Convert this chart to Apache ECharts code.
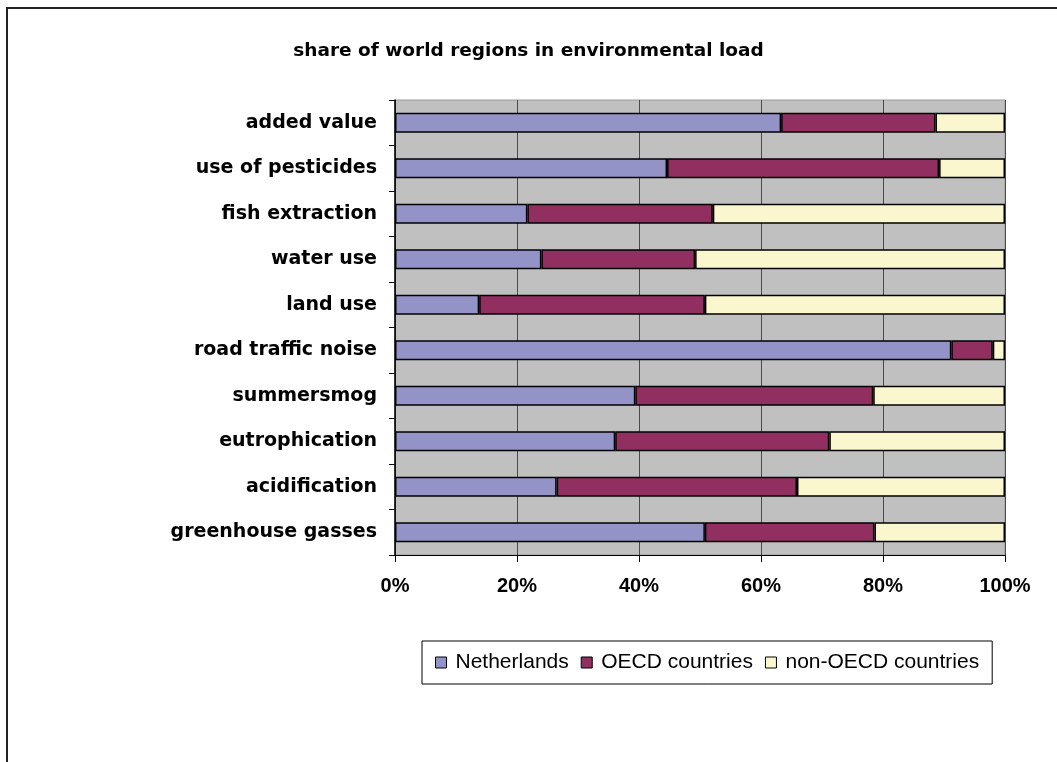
<!DOCTYPE html>
<html>
<head>
<meta charset="utf-8">
<script src="https://cdn.jsdelivr.net/npm/echarts@6/dist/echarts.min.js"></script>
<style>
html,body{margin:0;padding:0;background:#fff;}
#chart{width:1057px;height:762px;}
</style>
</head>
<body>
<div id="chart"></div>
<script>
const categories = ["added value","use of pesticides","fish extraction","water use","land use","road traffic noise","summersmog","eutrophication","acidification","greenhouse gasses"];
const netherlands = [63.3, 44.6, 21.7, 24.0, 13.8, 91.2, 39.4, 36.1, 26.5, 50.8];
const oecd = [25.3, 44.6, 30.4, 25.2, 37.0, 6.8, 39.0, 35.1, 39.4, 27.8];
const nonOecd = [11.4, 10.8, 47.9, 50.8, 49.2, 2.0, 21.6, 28.8, 34.1, 21.4];
const seriesNames = ["Netherlands","OECD countries","non-OECD countries"];
const xTicks = [0, 20, 40, 60, 80, 100];

const colors = ["#9393C8", "#913060", "#FAF7CF"];
const chart = echarts.init(document.getElementById('chart'));
function mk(name, data, color) {
  return {
    name: name, type: 'bar', stack: 'total', data: data, barWidth: 20,
    itemStyle: { color: color, borderColor: '#000', borderWidth: 1.5 },
    emphasis: { disabled: true }
  };
}
chart.setOption({
  animation: false,
  backgroundColor: '#fff',
  title: {
    text: 'share of world regions in environmental load',
    left: 'center', top: 37,
    textStyle: { fontFamily: 'DejaVu Sans', fontWeight: 'bold', fontSize: 18.5, color: '#000' }
  },
  graphic: [{
    type: 'rect', shape: { x: 7, y: 8, width: 1100, height: 800 },
    style: { fill: 'none', stroke: '#222', lineWidth: 2 }, silent: true, z: -1
  }],
  grid: {
    left: 395, right: 52, top: 100, bottom: 207,
    show: true, backgroundColor: '#C0C0C0', borderColor: '#9a9a9a', borderWidth: 1
  },
  legend: {
    data: seriesNames,
    left: 422, top: 641,
    width: 600,
    padding: [11, 13, 11, 13],
    borderColor: '#000', borderWidth: 1,
    itemWidth: 11, itemHeight: 11, itemGap: 12,
    icon: 'rect',
    itemStyle: { borderColor: '#000', borderWidth: 1 },
    textStyle: { fontFamily: 'Liberation Sans', fontSize: 21, color: '#000', padding: [0, 0, 0, 4] }
  },
  xAxis: {
    type: 'value', min: xTicks[0], max: xTicks[xTicks.length - 1], interval: 20,
    axisLine: { show: true, lineStyle: { color: '#000', width: 1 } },
    axisTick: { show: true, length: 7, lineStyle: { color: '#000' } },
    axisLabel: {
      formatter: '{value}%', margin: 21,
      fontFamily: 'Liberation Sans', fontWeight: 'bold', fontSize: 20, color: '#000'
    },
    splitLine: { show: true, lineStyle: { color: '#4a4a4a', width: 1 } }
  },
  yAxis: {
    type: 'category', data: categories, inverse: true,
    axisLine: { show: true, lineStyle: { color: '#000', width: 1.5 } },
    axisTick: { show: true, length: 6, lineStyle: { color: '#000' } },
    axisLabel: {
      margin: 18, fontFamily: 'DejaVu Sans', fontWeight: 'bold', fontSize: 19, color: '#000'
    },
    splitLine: { show: false }
  },
  series: [
    mk(seriesNames[0], netherlands, colors[0]),
    mk(seriesNames[1], oecd, colors[1]),
    mk(seriesNames[2], nonOecd, colors[2])
  ]
});
</script>
</body>
</html>
